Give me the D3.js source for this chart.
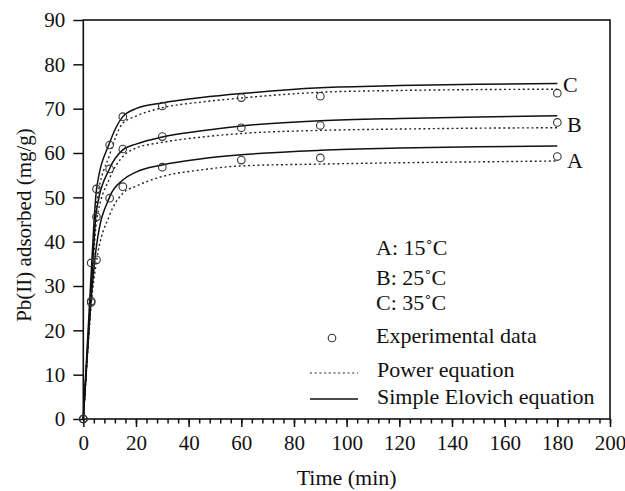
<!DOCTYPE html>
<html>
<head>
<meta charset="utf-8">
<script src="https://cdn.jsdelivr.net/npm/d3@7"></script>
<style>
  body { margin: 0; background: #fff; }
  text { font-family: "Liberation Serif", "Times New Roman", serif; fill: #111; }
</style>
</head>
<body>
<svg width="625" height="491"></svg>
<script>
// experimental data (min, mg/g)
var expTimes = [0, 3, 5, 10, 15, 30, 60, 90, 180]
var expA = [0, 26.3, 35.9, 49.8, 52.4, 56.8, 58.4, 58.9, 59.2]
var expB = [0, 26.6, 45.6, 56.4, 60.9, 63.7, 65.7, 66.2, 66.9]
var expC = [0, 35.2, 51.9, 61.8, 68.2, 70.6, 72.5, 72.8, 73.5]

// fitted curves
var fitTimes = [0, 3, 5, 10, 15, 20, 30, 45, 60, 90, 120, 150, 180]
var elovichA = [0, 27, 39, 50.1, 53.9, 55.7, 57.3, 58.7, 59.6, 60.6, 61.1, 61.4, 61.6]
var elovichB = [0, 29, 47, 56.5, 60.7, 62.0, 63.6, 65.0, 66.1, 67.3, 67.8, 68.1, 68.4]
var elovichC = [0, 33, 51.7, 62.3, 68.2, 70.0, 71.3, 72.5, 73.4, 74.7, 75.2, 75.5, 75.7]
var powerA = [0, 26, 35.5, 46, 50.9, 52.5, 54.7, 56.2, 57.1, 57.5, 57.8, 58.0, 58.2]
var powerB = [0, 27, 44.5, 54.3, 59.2, 61.1, 62.4, 63.6, 64.4, 65.1, 65.4, 65.6, 65.7]
var powerC = [0, 30, 48.5, 59.6, 66.7, 68.3, 70.2, 71.5, 72.4, 73.7, 74.1, 74.3, 74.4]

var curveLabels = ["A", "B", "C"]
var legendTemps = ["A: 15\u02DAC", "B: 25\u02DAC", "C: 35\u02DAC"]

var svg = d3.select("svg")
var plotL = 83.3, plotR = 610, plotT = 20, plotB = 419

var x = d3.scaleLinear().domain([0, 200]).range([plotL, plotR])
var y = d3.scaleLinear().domain([0, 90]).range([plotB, plotT])

svg.append("rect").attr("width", 625).attr("height", 491).attr("fill", "#fff")

// frame
svg.append("rect")
    .attr("x", plotL).attr("y", plotT)
    .attr("width", plotR - plotL).attr("height", plotB - plotT)
    .attr("fill", "none").attr("stroke", "#111").attr("stroke-width", 1.6)

// x axis: minor then major ticks
var xMinor = svg.append("g").attr("transform", "translate(0," + plotB + ")")
    .call(d3.axisBottom(x).tickValues(d3.range(0, 201, 4)).tickSize(4.5).tickFormat(""))
var xMajor = svg.append("g").attr("transform", "translate(0," + plotB + ")")
    .call(d3.axisBottom(x).tickValues(d3.range(0, 201, 20)).tickSize(8).tickPadding(8))
var yAxis = svg.append("g").attr("transform", "translate(" + plotL + ",0)")
    .call(d3.axisLeft(y).tickValues(d3.range(0, 91, 10)).tickSize(10).tickPadding(8))

;[xMinor, xMajor, yAxis].forEach(function(a) {
    a.select(".domain").remove()
    a.selectAll("line").attr("stroke", "#111").attr("stroke-width", 1.5)
    a.selectAll("text").style("font-size", "21px").style("font-family", "Liberation Serif").attr("fill", "#111")
})

// fitted lines
var line = d3.line()
    .x(function(d) { return x(d[0]) })
    .y(function(d) { return y(d[1]) })
    .curve(d3.curveMonotoneX)

function pairs(ts, qs) { return ts.map(function(t, i) { return [t, qs[i]] }) }

;[powerA, powerB, powerC].forEach(function(s) {
    svg.append("path").datum(pairs(fitTimes, s))
        .attr("d", line).attr("fill", "none")
        .attr("stroke", "#222").attr("stroke-width", 1.4)
        .attr("stroke-dasharray", "2,2.7")
})
;[elovichA, elovichB, elovichC].forEach(function(s) {
    svg.append("path").datum(pairs(fitTimes, s))
        .attr("d", line).attr("fill", "none")
        .attr("stroke", "#111").attr("stroke-width", 1.5)
})

// experimental points
;[expA, expB, expC].forEach(function(s) {
    svg.selectAll(null).data(pairs(expTimes, s)).enter().append("circle")
        .attr("cx", function(d) { return x(d[0]) })
        .attr("cy", function(d) { return y(d[1]) })
        .attr("r", 3.8)
        .attr("fill", "none").attr("stroke", "#333").attr("stroke-width", 1.1)
})

// curve end labels
var labelY = [168, 132, 92]
curveLabels.forEach(function(l, i) {
    svg.append("text").attr("x", i == 2 ? 563 : 567).attr("y", labelY[i])
        .style("font-size", "22px").text(l)
})

// legend
var lg = svg.append("g").style("font-size", "22px")
legendTemps.forEach(function(t, i) {
    lg.append("text").attr("x", 376).attr("y", [255, 285, 310][i]).text(t)
})
lg.append("circle").attr("cx", 332).attr("cy", 338).attr("r", 3.8)
    .attr("fill", "none").attr("stroke", "#333").attr("stroke-width", 1.1)
lg.append("text").attr("x", 376).attr("y", 343).text("Experimental data")
lg.append("line").attr("x1", 310).attr("x2", 358).attr("y1", 373).attr("y2", 373)
    .attr("stroke", "#222").attr("stroke-width", 1.2).attr("stroke-dasharray", "2,2.7")
lg.append("text").attr("x", 377).attr("y", 377).text("Power equation")
lg.append("line").attr("x1", 310).attr("x2", 358).attr("y1", 399).attr("y2", 399)
    .attr("stroke", "#111").attr("stroke-width", 1.5)
lg.append("text").attr("x", 377).attr("y", 404).text("Simple Elovich equation")

// axis titles
svg.append("text").attr("x", (plotL + plotR) / 2).attr("y", 485)
    .attr("text-anchor", "middle").style("font-size", "22px").text("Time (min)")
svg.append("text").attr("transform", "translate(31,225) rotate(-90)")
    .attr("text-anchor", "middle").style("font-size", "21px").text("Pb(II) adsorbed (mg/g)")
</script>
</body>
</html>
